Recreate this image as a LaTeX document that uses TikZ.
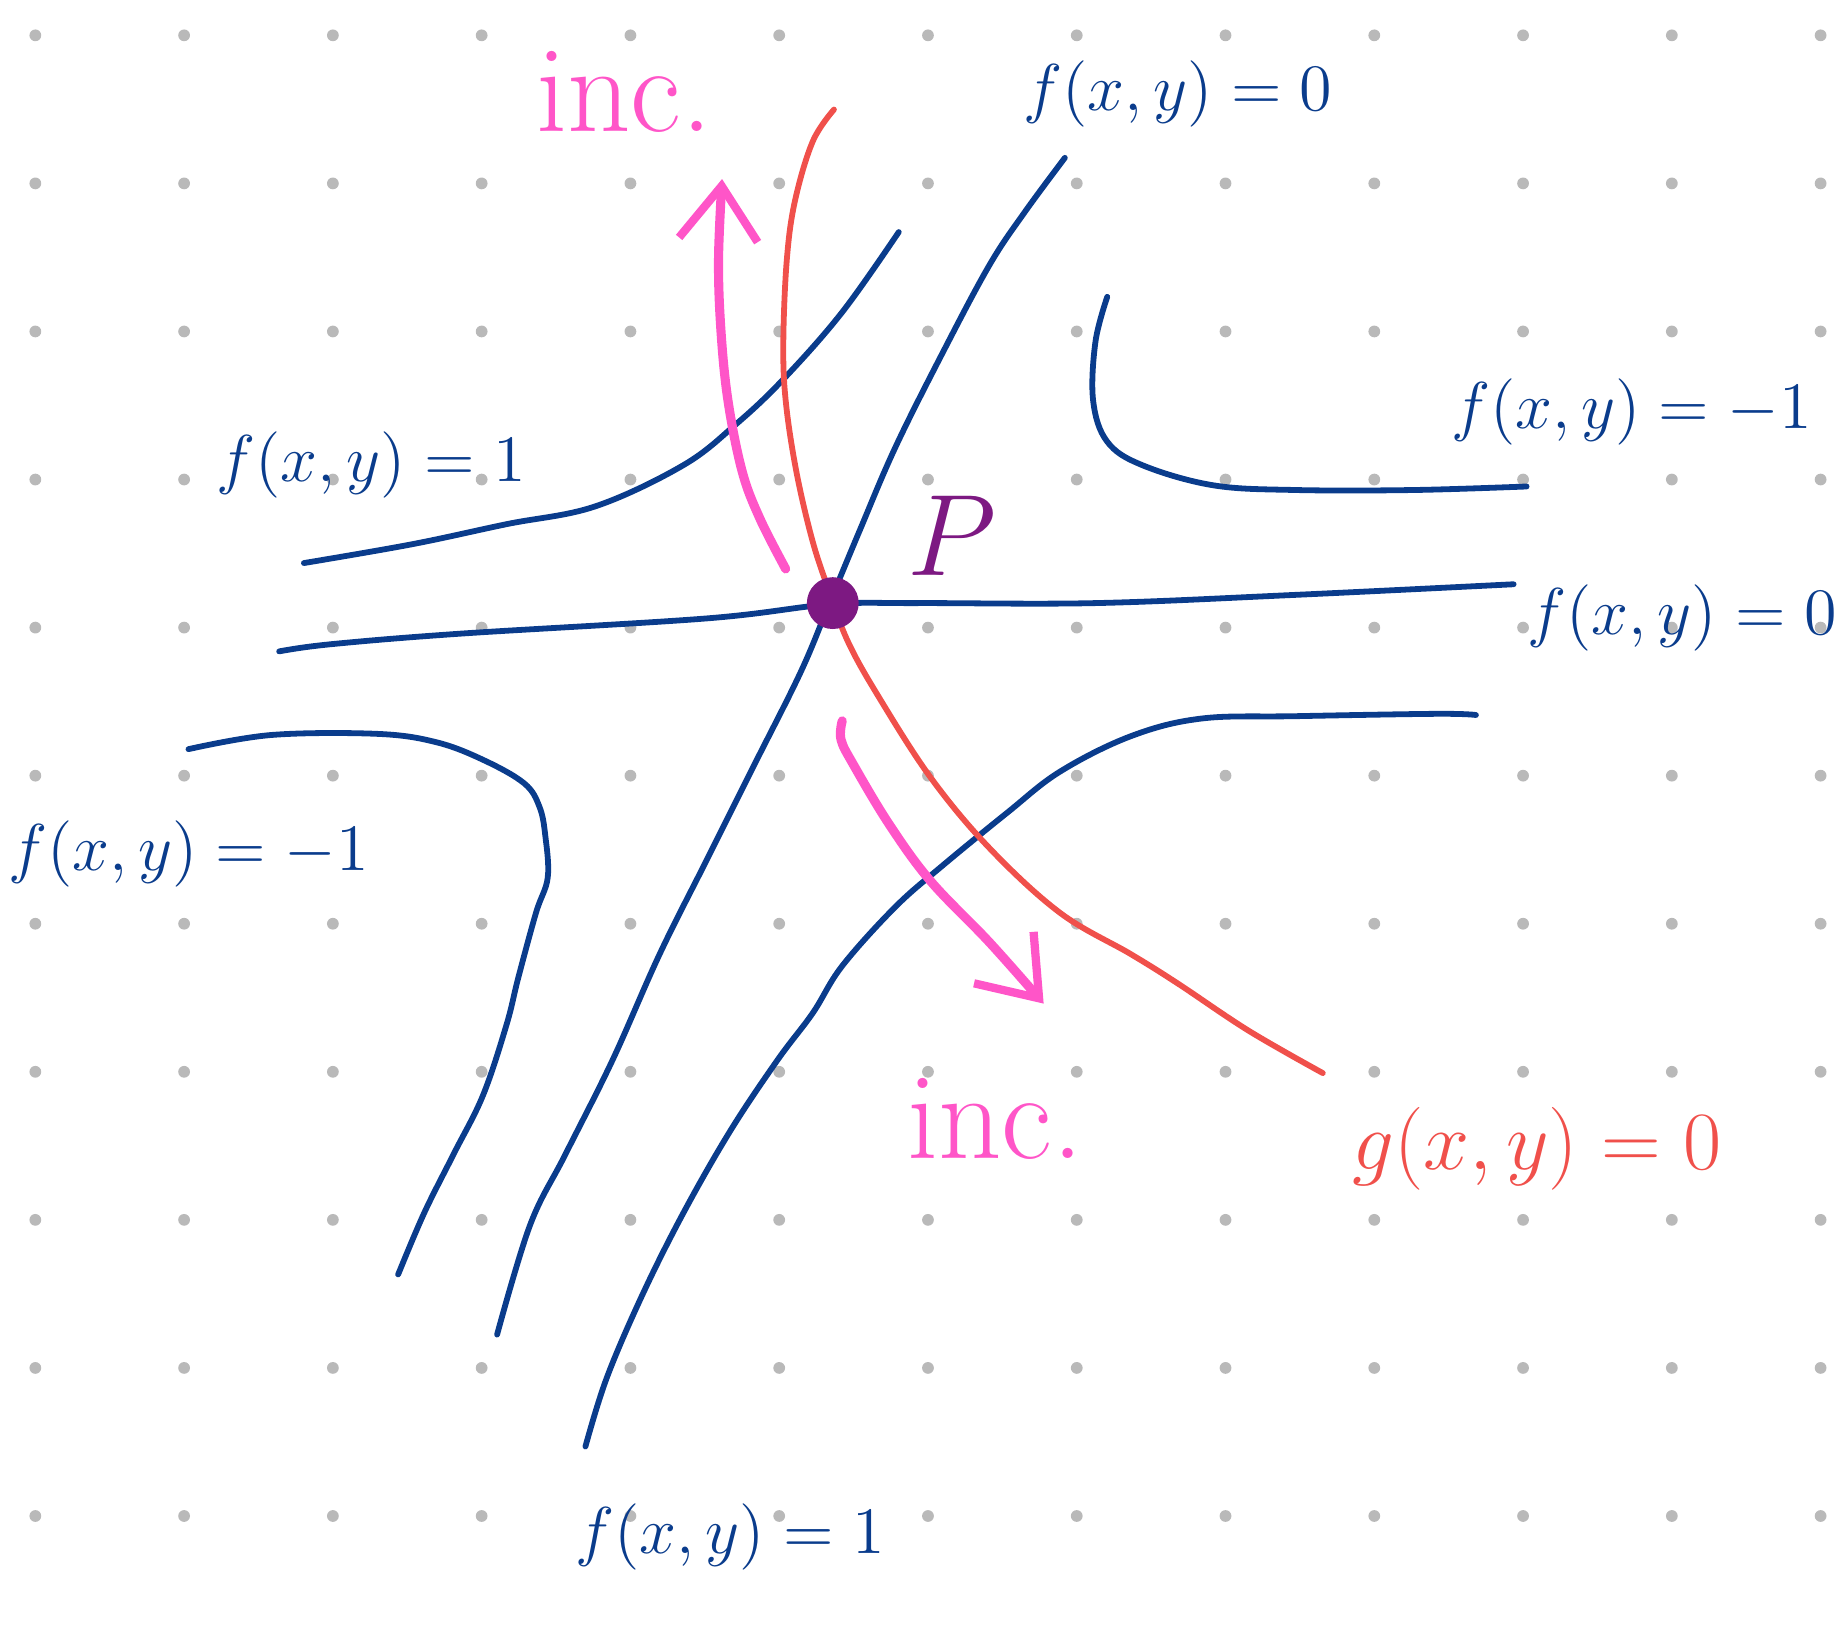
\RequirePackage{fix-cm}
\documentclass[tikz,border=0pt]{standalone}
\usepackage{fontspec}
\usetikzlibrary{arrows.meta}
\definecolor{fblue}{RGB}{10,60,140}
\definecolor{gred}{RGB}{240,80,75}
\definecolor{incpink}{RGB}{255,85,200}
\definecolor{ppurple}{RGB}{125,25,130}
\definecolor{dotgray}{RGB}{185,185,185}
\tikzset{
  gridpt/.style={fill=dotgray, draw=none},
  levelf/.style={fblue, line width=1.4pt, line cap=round},
  curveg/.style={gred, line width=1.4pt, line cap=round},
  incarrow/.style={incpink, line width=2.2pt, line cap=round,
    -{Straight Barb[length=13pt,width=19pt,line width=2pt]}},
  flabel/.style={fblue, font=\fontsize{16}{19}\selectfont},
  glabel/.style={gred, font=\fontsize{20}{24}\selectfont},
  inclabel/.style={incpink, font=\fontsize{30}{36}\selectfont},
}

\begin{document}
\begin{tikzpicture}[x=0.01cm, y=-0.01cm]
  \useasboundingbox (0,0) rectangle (1568,1379);

  % dot grid
  \foreach \i in {0,...,12}
    \foreach \j in {0,...,10}
      \fill[gridpt] ({30+126.3*\i},{30+125.7*\j}) circle (5);

  % level curves of f
  \draw[levelf] plot[smooth, tension=0.6] coordinates {(258,478) (350,462) (430,445) (505,430) (580,395) (625,360) (665,322) (715,265) (763,197)};
  \draw[levelf] plot[smooth, tension=0.6] coordinates {(237,553) (280,547) (390,538) (600,525) (705,513) (780,512) (930,512) (1100,505) (1285,496)};
  \draw[levelf] plot[smooth, tension=0.6] coordinates {(904,134) (870,180) (840,225) (800,300) (760,380) (730,450) (705,510) (680,570) (640,650) (600,730) (560,810) (520,900) (480,980) (450,1040) (422,1133)};
  \draw[levelf] plot[smooth, tension=0.6] coordinates {(940,252) (930,290) (928,340) (940,375) (970,395) (1030,412) (1100,416) (1200,416) (1296,413)};
  \draw[levelf] plot[smooth, tension=0.6] coordinates {(160,636) (230,624) (320,623) (370,630) (410,645) (445,665) (458,685) (463,710) (465,745) (455,775) (440,830) (430,870) (410,930) (385,980) (360,1030) (338,1082)};
  \draw[levelf] plot[smooth, tension=0.6] coordinates {(1253,607) (1220,606) (1100,608) (1020,610) (960,625) (900,655) (855,690) (800,735) (760,770) (715,820) (690,860) (660,900) (620,960) (580,1030) (545,1100) (515,1170) (497,1228)};

  % constraint curve g
  \draw[curveg] plot[smooth, tension=0.6] coordinates {(708,93) (690,120) (675,170) (668,220) (665,290) (667,340) (676,400) (690,460) (705,505) (720,545) (745,590) (790,660) (840,720) (900,775) (960,810) (1000,835) (1060,875) (1123,911)};

  % directions of increase
  \draw[incarrow] plot[smooth, tension=0.6] coordinates {(667,483) (645,440) (630,400) (618,340) (612,280) (610,220) (613,152)};
  \draw[incarrow] plot[smooth, tension=0.6] coordinates {(715,612) (714,628) (725,650) (755,700) (790,748) (840,800) (886,852)};

  % point P
  \fill[ppurple] (707,512) circle (22);
  \node[ppurple, font=\fontsize{28}{32}\selectfont] (plabel) at (808,455) {$P$};

  % labels
  \node[inclabel] (inctop) at (530,78) {inc.};
  \node[inclabel] (incbot) at (845,950) {inc.};
  \node[flabel] (ftop) at (1000,80) {$f(x,y)=0$};
  \node[flabel] (fright) at (1385,350) {$f(x,y)=-1$};
  \node[flabel] (fleft) at (315,395) {$f(x,y)=1$};
  \node[flabel] (fmid) at (1428,525) {$f(x,y)=0$};
  \node[flabel] (flow) at (160,725) {$f(x,y)=-1$};
  \node[flabel] (fbot) at (620,1305) {$f(x,y)=1$};
  \node[glabel] (glab) at (1305,975) {$g(x,y)=0$};
\end{tikzpicture}
\end{document}
